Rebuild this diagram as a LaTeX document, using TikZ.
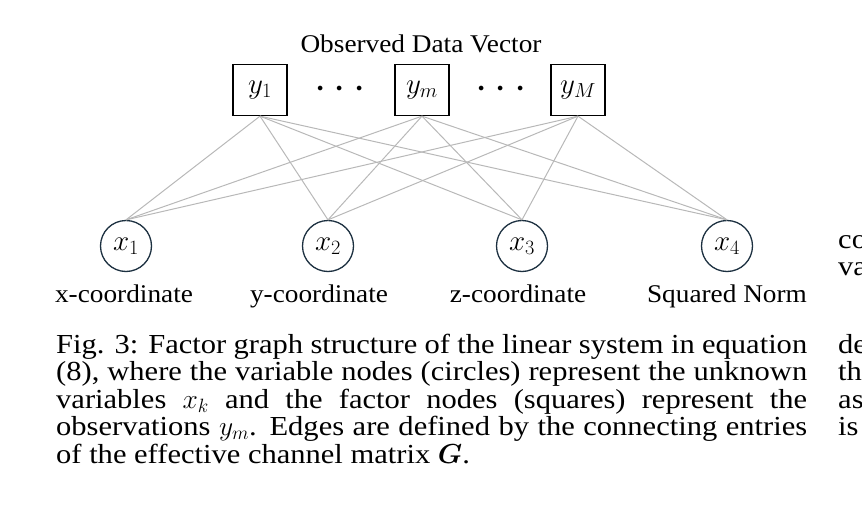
\RequirePackage{fix-cm}
\documentclass[tikz,border=0pt]{standalone}
\usepackage{bm}
\usepackage[no-math]{fontspec}
\setmainfont{Liberation Serif}
\newfontfamily\capfont{Liberation Serif}[FakeStretch=1.11]
\newfontfamily\labfont{Liberation Serif}[FakeStretch=1.07]
\definecolor{circcol}{HTML}{1C3040}
\definecolor{edgecol}{HTML}{B8B8B8}
\begin{document}
\begin{tikzpicture}[x=1pt,y=-1pt,
  fac/.style={draw=black,line width=1.3pt,minimum width=54pt,minimum height=51pt,inner sep=0pt,font=\fontsize{29}{32}\selectfont},
  var/.style={circle,draw=circcol,line width=1.3pt,minimum size=51pt,inner sep=0pt,font=\fontsize{29}{32}\selectfont},
  edge/.style={draw=edgecol,line width=1pt},
  lab/.style={font=\labfont\fontsize{25.5}{28}\selectfont,inner sep=0pt,anchor=base},
  dotsnode/.style={font=\fontsize{44}{44}\selectfont,inner sep=0pt},
  capl/.style={font=\capfont\fontsize{27.5}{27.5}\selectfont,inner sep=0pt,anchor=base west}]
\useasboundingbox (0,0) rectangle (862,532);
\clip (0,0) rectangle (862,532);

% title
\node[lab] (title) at (421,53) {Observed Data Vector};

% factor nodes
\node[fac] (y1) at (260,90) {$y_1$};
\node[fac] (ym) at (422,90) {$y_m$};
\node[fac] (yM) at (578,90) {$y_M$};
\node[dotsnode] (d1) at (340,90) {$\cdots$};
\node[dotsnode] (d2) at (501,90) {$\cdots$};

% variable nodes
\node[var] (x1) at (126,246) {$x_1$};
\node[var] (x2) at (328,246) {$x_2$};
\node[var] (x3) at (522,246) {$x_3$};
\node[var] (x4) at (727,246) {$x_4$};

% edges
\foreach \f in {y1,ym,yM}{
  \foreach \v in {x1,x2,x3,x4}{
    \draw[edge] (\f.south) -- (\v.north);
  }
}

% labels
\node[lab] (l1) at (124,302) {x-coordinate};
\node[lab] (l2) at (319,302) {y-coordinate};
\node[lab] (l3) at (518,302) {z-coordinate};
\node[lab] (l4) at (727,302) {Squared Norm};

% caption
\node[capl] (c1) at (56,353) {\makebox[751pt][s]{Fig. 3: Factor graph structure of the linear system in equation}};
\node[capl] (c2) at (56,380.5) {\makebox[751pt][s]{(8), where the variable nodes (circles) represent the unknown}};
\node[capl] (c3) at (56,408) {\makebox[751pt][s]{variables $x_k$ and the factor nodes (squares) represent the}};
\node[capl] (c4) at (56,435.5) {\makebox[751pt][s]{observations $y_m$. Edges are defined by the connecting entries}};
\node[capl] (c5) at (56,463) {of the effective channel matrix $\bm{G}$.};

% fragments of the neighbouring column
\node[capl] (r1) at (838,248) {co};
\node[capl] (r2) at (838,275) {va};
\node[capl] (r3) at (838,353) {de};
\node[capl] (r4) at (838,380.5) {th};
\node[capl] (r5) at (838,408) {as};
\node[capl] (r6) at (838,435.5) {is};
\end{tikzpicture}
\end{document}
